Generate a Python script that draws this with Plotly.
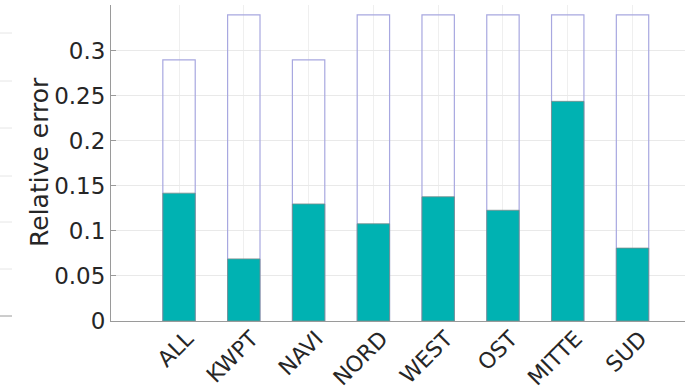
import plotly.graph_objects as go

# Regions and their relative errors
regions = ["ALL", "KWPT", "NAVI", "NORD", "WEST", "OST", "MITTE", "SUD"]
error_bound = [0.29, 0.34, 0.29, 0.34, 0.34, 0.34, 0.34, 0.34]
error_value = [0.142, 0.069, 0.130, 0.108, 0.138, 0.123, 0.244, 0.081]

y_ticks = [0, 0.05, 0.1, 0.15, 0.2, 0.25, 0.3]
y_tick_text = ["0", "0.05", "0.1", "0.15", "0.2", "0.25", "0.3"]

x_pos = list(range(len(regions)))

fig = go.Figure()

# Upper bound drawn as hollow outlined bars
fig.add_trace(go.Bar(
    x=x_pos, y=error_bound, width=0.5,
    marker=dict(color="rgba(255,255,255,0)",
                line=dict(color="#a8a8e0", width=1.2)),
    hoverinfo="skip", showlegend=False,
))

# Measured error as filled bars
fig.add_trace(go.Bar(
    x=x_pos, y=error_value, width=0.5,
    marker=dict(color="#00b2b2",
                line=dict(color="#7a8c8c", width=0.8)),
    showlegend=False,
))

font = "DejaVu Sans"
txt = "#262626"

# Gridline fragments of the neighbouring panel at the left edge
W, H = 685, 391
ml, mr, mt, mb = 111, 0, 5, 70
pw, ph = W - ml - mr, H - mt - mb
shapes = []
for ypx, col in [(33, "#e6e6e6"), (81, "#e6e6e6"), (128, "#e6e6e6"),
                 (176, "#e6e6e6"), (222, "#e6e6e6"), (269, "#e6e6e6"),
                 (316, "#9a9a9a")]:
    yp = (H - mb - ypx) / ph
    shapes.append(dict(type="line", xref="paper", yref="paper",
                       x0=(0 - ml) / pw, x1=(12 - ml) / pw, y0=yp, y1=yp,
                       line=dict(color=col, width=1)))

fig.update_layout(
    width=W, height=H,
    margin=dict(l=ml, r=mr, t=mt, b=mb, pad=0, autoexpand=False),
    paper_bgcolor="white", plot_bgcolor="white",
    barmode="overlay",
    font=dict(family=font, color=txt),
    shapes=shapes,
    xaxis=dict(
        range=[-1.05, 7.81], automargin=False,
        tickmode="array", tickvals=x_pos, ticktext=regions,
        tickangle=-45, tickfont=dict(family=font, size=22, color=txt),
        ticklabelshift=8, ticklabelstandoff=-5,
        showgrid=True, gridcolor="#efefef", gridwidth=1,
        showline=True, linecolor="#9a9a9a", linewidth=1,
        ticks="", zeroline=False,
    ),
    yaxis=dict(
        range=[0, 0.351], automargin=False,
        tickmode="array", tickvals=y_ticks, ticktext=y_tick_text,
        tickfont=dict(family=font, size=23, color=txt),
        showgrid=True, gridcolor="#e9e9e9", gridwidth=1,
        showline=True, linecolor="#9a9a9a", linewidth=1,
        ticks="inside", ticklen=5, tickcolor="#9a9a9a",
        zeroline=False,
    ),
    annotations=[dict(
        text="Relative error", textangle=-90,
        xref="paper", yref="paper",
        x=(39 - ml) / pw, y=(H - mb - 162) / ph,
        xanchor="center", yanchor="middle", showarrow=False,
        font=dict(family=font, size=25, color=txt),
    )],
)

fig.write_html("out.html")
